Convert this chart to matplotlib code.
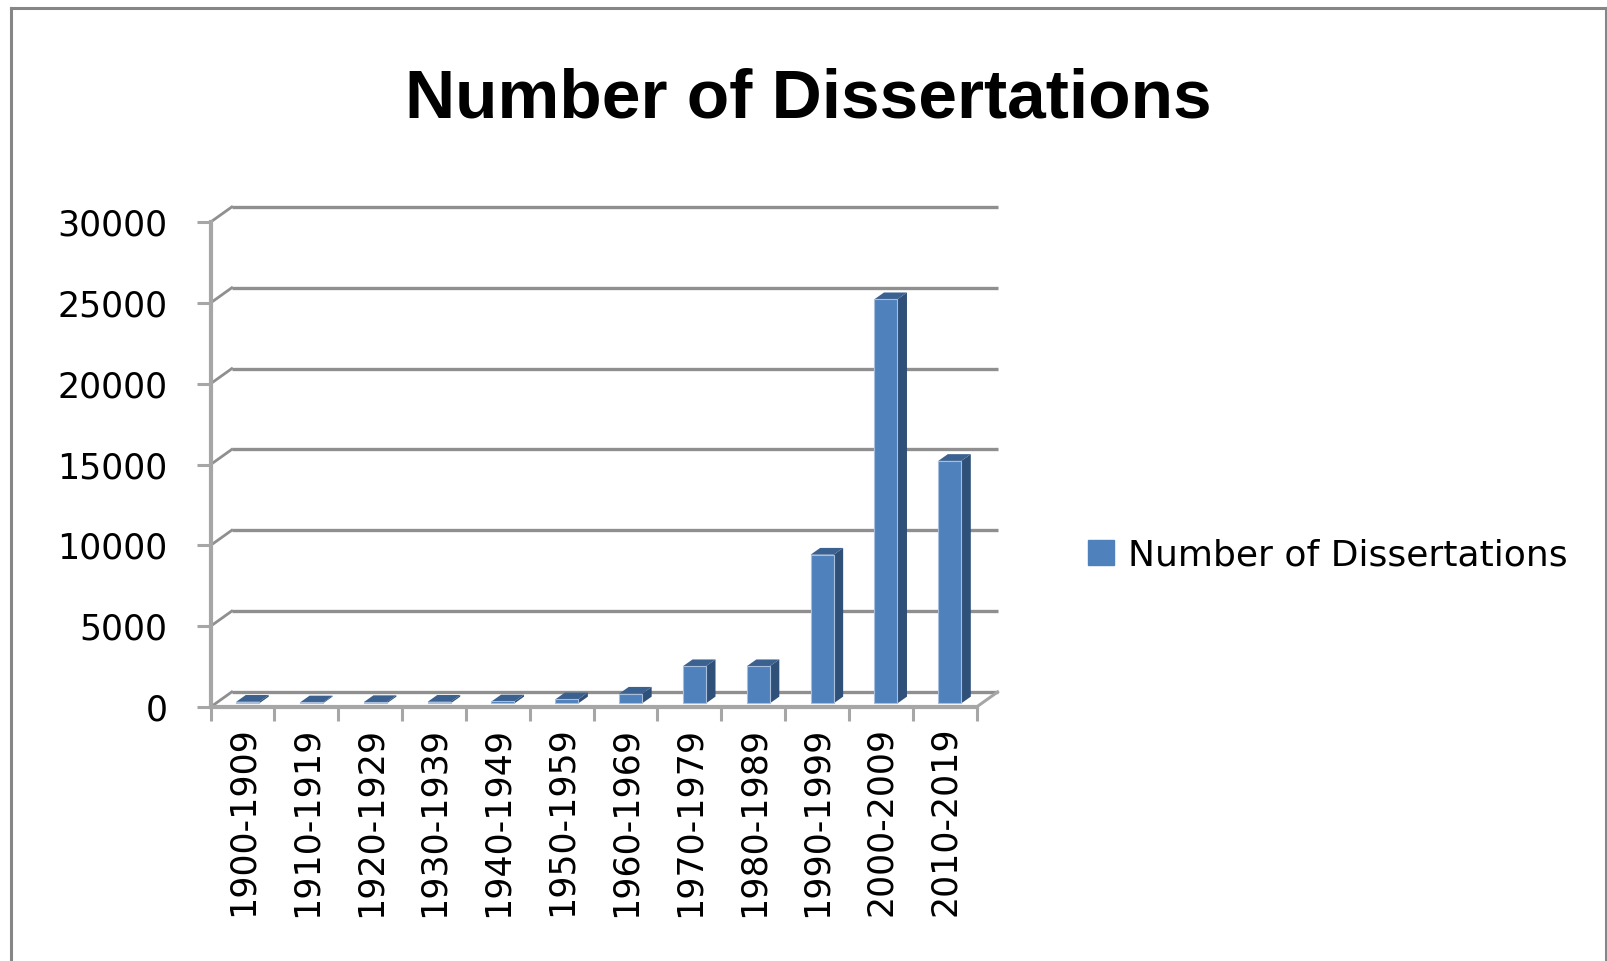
import numpy as np
import matplotlib
matplotlib.use('Agg')
import matplotlib.pyplot as plt
from matplotlib.lines import Line2D

# data
decades = ['1900-1909', '1910-1919', '1920-1929', '1930-1939', '1940-1949',
           '1950-1959', '1960-1969', '1970-1979', '1980-1989', '1990-1999',
           '2000-2009', '2010-2019']
dissertations = [100, 60, 80, 100, 120, 250, 600, 2300, 2300, 9200, 25000, 15000]
y_ticks = [0, 5000, 10000, 15000, 20000, 25000, 30000]

title = 'Number of Dissertations'
series_name = 'Number of Dissertations'

# fake 3d depth (x in category units, y in value units)
DX = 0.33
DY = 930
bar_w = 0.36
grid_col = '#8f8f8f'
axis_col = '#a6a6a6'
front_col = '#4f81bd'
side_col = '#2f5079'
top_col = '#3b6190'

plt.rcParams['font.family'] = ['DejaVu Sans']

fig = plt.figure(figsize=(16.08, 9.61), dpi=100)
ax = fig.add_axes([0.131, 0.2643, 0.4894, 0.5203])
n = len(decades)
ax.set_xlim(-0.5, n - 0.5 + DX)
ax.set_ylim(0, y_ticks[-1] + DY)
for s in ax.spines.values():
    s.set_visible(False)

# back wall gridlines + left side wall edges
for v in y_ticks:
    ax.plot([-0.5 + DX, n - 0.5 + DX], [v + DY, v + DY], color=grid_col, lw=2.4,
            solid_capstyle='butt', zorder=1, clip_on=False)
    ax.plot([-0.5, -0.5 + DX], [v, v + DY], color=grid_col, lw=2.0, zorder=1, clip_on=False)

# floor front edge and right diagonal
ax.plot([-0.5, n - 0.5], [0, 0], color=axis_col, lw=3, zorder=2, clip_on=False)
ax.plot([n - 0.5, n - 0.5 + DX], [0, DY], color=axis_col, lw=2.2, zorder=2, clip_on=False)
# y axis line
ax.plot([-0.5, -0.5], [0, y_ticks[-1]], color=axis_col, lw=3, zorder=2, clip_on=False)

# bars: front face via bar(), side and top faces from the same values
x = np.arange(n)
base = 0.24 * DY
fx = x + 0.08
ax.bar(fx, dissertations, width=bar_w, bottom=base, color=front_col,
       edgecolor='#a9bedb', linewidth=0.8, zorder=4)
sx, sy = 0.15, 0.45 * DY
for xi, v in zip(fx, dissertations):
    l, r = xi - bar_w / 2, xi + bar_w / 2
    top = base + v
    ax.fill([r, r + sx, r + sx, r], [base, base + sy, top + sy, top],
            color=side_col, zorder=3, lw=0)
    ax.fill([l, r, r + sx, l + sx], [top, top, top + sy, top + sy],
            color=top_col, zorder=3, lw=0)

# ticks
ax.set_yticks(y_ticks)
ax.set_yticklabels([str(v) for v in y_ticks])
ax.tick_params(axis='y', length=10, width=2.2, color=axis_col, pad=21,
               labelsize=25, direction='out')
ax.set_xticks(np.arange(n + 1) - 0.5)
ax.set_xticklabels([])
ax.set_xticks(x, minor=True)
ax.set_xticklabels(decades, minor=True, rotation=90, fontsize=25)
ax.tick_params(axis='x', which='major', length=10, width=2.2, color=axis_col, direction='out')
ax.tick_params(axis='x', which='minor', length=0, pad=14)

# title
fig.text(808 / 1608, 1 - 118 / 961, title, ha='center', va='baseline',
         fontsize=50, fontweight='bold',
         family=['Liberation Sans', 'DejaVu Sans'])

# legend
handle = plt.Rectangle((0, 0), 1, 1, color=front_col)
fig.legend([handle], [series_name], loc='center left',
           bbox_to_anchor=(1056 / 1608, 1 - 555 / 961), frameon=False,
           fontsize=26, handlelength=0.7, handleheight=0.7, handletextpad=0.4)

# chart border
W, H = 1608, 961
fig.add_artist(Line2D([11 / W, 11 / W], [0, 1 - 8 / H], color='#868686', lw=2.2))
fig.add_artist(Line2D([11 / W, 1606 / W], [1 - 8 / H, 1 - 8 / H], color='#868686', lw=2.2))
fig.add_artist(Line2D([1606 / W, 1606 / W], [0, 1 - 8 / H], color='#868686', lw=2.2))

fig.savefig('out.png', dpi=100)
